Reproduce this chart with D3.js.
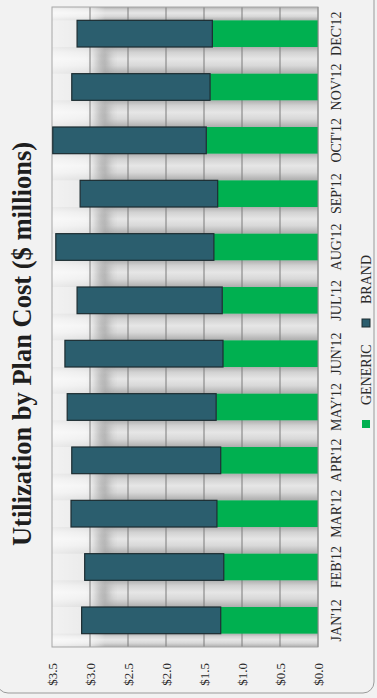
<!DOCTYPE html>
<html>
<head>
<meta charset="utf-8">
<script src="https://cdn.jsdelivr.net/npm/d3@7"></script>
<style>
  html, body { margin: 0; padding: 0; background: #f2f2f2; }
  svg { display: block; }
</style>
</head>
<body>
<div id="chart"></div>
<script>
// Monthly plan cost, stacked: generic drugs first, brand on top ($ millions)
const months = ["JAN'12", "FEB'12", "MAR'12", "APR'12", "MAY'12", "JUN'12",
                "JUL'12", "AUG'12", "SEP'12", "OCT'12", "NOV'12", "DEC'12"];
const genericCost = [1.28, 1.24, 1.33, 1.28, 1.34, 1.25, 1.26, 1.37, 1.32, 1.47, 1.42, 1.39];
const brandCost   = [1.83, 1.83, 1.92, 1.96, 1.96, 2.08, 1.91, 2.08, 1.81, 2.02, 1.82, 1.78];
const valueTicks  = [0, 0.5, 1.0, 1.5, 2.0, 2.5, 3.0, 3.5];
const seriesNames = ["GENERIC", "BRAND"];

const W = 377, H = 698;          // page size
const CW = H, CH = W;            // chart is laid out landscape, then turned upright

const colors = { GENERIC: "#00b050", BRAND: "#2b5e6e" };

const svg = d3.select("#chart").append("svg")
  .attr("width", W).attr("height", H);

const defs = svg.append("defs");

// metallic shading for the gaps between columns
const gapGrad = defs.append("linearGradient")
  .attr("id", "gapGrad").attr("x1", "0").attr("x2", "1").attr("y1", "0").attr("y2", "0");
[[0, "#adadad"], [0.3, "#d8d8d8"], [0.55, "#e6e6e6"], [0.8, "#d2d2d2"], [1, "#afafaf"]]
  .forEach(([o, c]) => gapGrad.append("stop").attr("offset", o).attr("stop-color", c));

// light wash near the top of the value range
const topWash = defs.append("linearGradient")
  .attr("id", "topWash").attr("x1", "0").attr("x2", "0").attr("y1", "0").attr("y2", "1");
topWash.append("stop").attr("offset", 0).attr("stop-color", "#ffffff").attr("stop-opacity", 0.75);
topWash.append("stop").attr("offset", 0.14).attr("stop-color", "#ffffff").attr("stop-opacity", 0.6);
topWash.append("stop").attr("offset", 0.2).attr("stop-color", "#ffffff").attr("stop-opacity", 0);

defs.append("filter").attr("id", "soft").attr("x", "-50%").attr("y", "-50%")
  .attr("width", "200%").attr("height", "200%")
  .append("feGaussianBlur").attr("stdDeviation", 5);

// rotate the landscape chart so that it reads bottom-to-top
const g = svg.append("g").attr("transform", `translate(0,${H}) rotate(-90)`);

// outer rounded frame
g.append("rect")
  .attr("x", 5).attr("y", -3).attr("width", CW + 20).attr("height", 377)
  .attr("rx", 11)
  .attr("fill", "#f2f2f2").attr("stroke", "#9a9a9a").attr("stroke-width", 1);

const plot = { left: 51, right: 691, top: 52, bottom: 318 };

const x = d3.scaleBand()
  .domain(months)
  .range([plot.left, plot.right])
  .paddingInner(0.5)
  .paddingOuter(0.25);

const y = d3.scaleLinear()
  .domain([0, 3.5])
  .range([plot.bottom, plot.top]);

// plot background
g.append("rect")
  .attr("x", plot.left).attr("y", plot.top)
  .attr("width", plot.right - plot.left).attr("height", plot.bottom - plot.top)
  .attr("fill", "#cbcbcb");

// shaded gaps between the columns
const gapStarts = d3.range(months.length + 1).map(i =>
  i === 0 ? plot.left : x(months[i - 1]) + x.bandwidth());
const gapEnds = d3.range(months.length + 1).map(i =>
  i === months.length ? plot.right : x(months[i]));
const gaps = d3.range(months.length + 1).map(i => ({ a: gapStarts[i], b: gapEnds[i] }));

g.append("g").selectAll("rect").data(gaps).join("rect")
  .attr("x", d => d.a).attr("width", d => d.b - d.a)
  .attr("y", plot.top).attr("height", plot.bottom - plot.top)
  .attr("fill", "url(#gapGrad)");

// soft shadows in the gaps
const shade = g.append("g").attr("filter", "url(#soft)").attr("opacity", 0.45);
shade.selectAll("rect").data(gaps.slice(1, -1)).join("rect")
  .attr("x", d => d.a + 3).attr("width", d => d.b - d.a - 6)
  .attr("y", y(2.95)).attr("height", y(2.75) - y(2.95))
  .attr("fill", "#6e6e6e");

g.append("rect")
  .attr("x", plot.left).attr("y", plot.top)
  .attr("width", plot.right - plot.left).attr("height", plot.bottom - plot.top)
  .attr("fill", "url(#topWash)");

// horizontal gridlines
g.append("g").selectAll("line").data(valueTicks.slice(1, -1)).join("line")
  .attr("x1", plot.left).attr("x2", plot.right)
  .attr("y1", d => y(d)).attr("y2", d => y(d))
  .attr("stroke", "#7a7a7a").attr("stroke-width", 1);

// plot border
g.append("rect")
  .attr("x", plot.left).attr("y", plot.top)
  .attr("width", plot.right - plot.left).attr("height", plot.bottom - plot.top)
  .attr("fill", "none").attr("stroke", "#a6a6a6").attr("stroke-width", 1);

// stacked columns
const table = months.map((m, i) => ({ month: m, GENERIC: genericCost[i], BRAND: brandCost[i] }));
const stacked = d3.stack().keys(seriesNames)(table);

g.append("g").selectAll("g").data(stacked).join("g")
  .attr("fill", d => colors[d.key])
  .attr("stroke", d => d.key === "BRAND" ? "#1c2c31" : "none")
  .attr("stroke-width", 1.2)
  .selectAll("rect").data(d => d).join("rect")
    .attr("x", d => x(d.data.month))
    .attr("width", x.bandwidth())
    .attr("y", d => y(d[1]))
    .attr("height", d => y(d[0]) - y(d[1]));

// value axis line at the base
g.append("line")
  .attr("x1", plot.left).attr("x2", plot.right)
  .attr("y1", plot.bottom).attr("y2", plot.bottom)
  .attr("stroke", "#8a8a8a");

const serif = "'Liberation Serif', 'Times New Roman', serif";

// value axis
const yAxis = g.append("g")
  .attr("transform", `translate(${plot.left},0)`)
  .call(d3.axisLeft(y).tickValues(valueTicks).tickSize(0).tickPadding(16)
    .tickFormat(d => "$" + d.toFixed(1)));
yAxis.select(".domain").remove();
yAxis.selectAll("text")
  .attr("font-family", serif).attr("font-size", 13).attr("fill", "#2b2b2b");

// category axis
const xAxis = g.append("g")
  .attr("transform", `translate(0,${plot.bottom})`)
  .call(d3.axisBottom(x).tickSize(0).tickPadding(13));
xAxis.select(".domain").remove();
xAxis.selectAll("text")
  .attr("font-family", serif).attr("font-size", 14).attr("fill", "#2b2b2b");

// title
g.append("text")
  .attr("x", 354).attr("y", 31)
  .attr("text-anchor", "middle")
  .attr("font-family", serif).attr("font-weight", "bold")
  .attr("font-size", 26.5).attr("fill", "#1e1e1e")
  .text("Utilization by Plan Cost ($ millions)");

// legend
const legendItems = [
  { key: "GENERIC", x: 270 },
  { key: "BRAND", x: 371 }
];
const legend = g.append("g").selectAll("g").data(legendItems).join("g")
  .attr("transform", d => `translate(${d.x},362)`);
legend.append("rect")
  .attr("width", 8).attr("height", 8)
  .attr("fill", d => colors[d.key])
  .attr("stroke", d => d.key === "BRAND" ? "#1c2c31" : "none");
legend.append("text")
  .attr("x", 23).attr("y", 9)
  .attr("font-family", serif).attr("font-size", 14).attr("fill", "#2b2b2b")
  .text(d => d.key);
</script>
</body>
</html>
